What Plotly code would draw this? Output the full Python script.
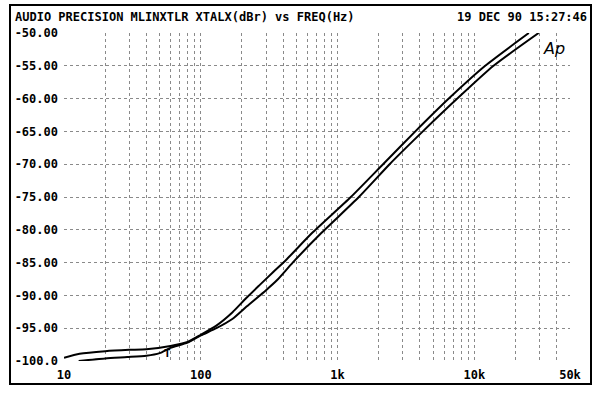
import math
import plotly.graph_objects as go

# ---- data ----
freq_a = [10, 13, 20, 30, 40, 60, 80, 100, 130, 170, 215, 270, 340, 420, 650, 1250, 2150, 3700, 6500, 12000, 25000]
xtalk_a = [-99.5, -98.9, -98.5, -98.3, -98.2, -97.7, -97.1, -96.0, -94.6, -92.6, -90.4, -88.4, -86.4, -84.6, -80.5, -75.0, -70.0, -65.0, -60.0, -55.0, -50.0]

freq_b = [12.8, 20, 29, 40, 50, 60, 80, 100, 130, 170, 216, 300, 360, 470, 760, 1430, 2400, 4200, 7500, 13800, 29500]
xtalk_b = [-100.0, -99.6, -99.4, -99.2, -98.8, -98.0, -97.2, -96.1, -95.0, -93.6, -91.7, -89.2, -87.7, -85.0, -80.5, -75.0, -70.0, -65.0, -60.0, -55.0, -50.0]

y_ticks = [-50, -55, -60, -65, -70, -75, -80, -85, -90, -95, -100]
y_tick_labels = ["-50.00", "-55.00", "-60.00", "-65.00", "-70.00", "-75.00",
                 "-80.00", "-85.00", "-90.00", "-95.00", "-100.0"]
x_ticks = [10, 100, 1000, 10000, 50000]
x_tick_labels = ["10", "100", "1k", "10k", "50k"]
x_minor = [20, 30, 40, 50, 60, 70, 80, 90,
           200, 300, 400, 500, 600, 700, 800, 900,
           2000, 3000, 4000, 5000, 6000, 7000, 8000, 9000,
           20000, 30000, 40000]

title_left = "AUDIO PRECISION MLINXTLR XTALX(dBr) vs FREQ(Hz)"
title_right = "19 DEC 90 15:27:46"
logo_text = "Ap"

# ---- layout geometry (pixels) ----
W, H = 600, 395
L, R, T, B = 64, 570, 33, 361
pw, ph = R - L, B - T

def px(x):
    return (x - L) / pw

def py(y):
    return (B - y) / ph

mono = "DejaVu Sans Mono"

fig = go.Figure()
for f, v in ((freq_a, xtalk_a), (freq_b, xtalk_b)):
    fig.add_trace(go.Scatter(
        x=f, y=v, mode="lines",
        line=dict(color="black", width=2, shape="spline", smoothing=0.6),
        showlegend=False, hoverinfo="skip"))

grid_col = "#8a8a8a"
fig.update_layout(
    width=W, height=H,
    margin=dict(l=L, r=W - R, t=T, b=H - B, autoexpand=False),
    paper_bgcolor="white", plot_bgcolor="white",
    xaxis=dict(
        type="log", range=[1, math.log10(50000)], automargin=False,
        tickmode="array", tickvals=x_ticks, ticktext=x_tick_labels,
        showgrid=True, gridcolor=grid_col, griddash="dot", gridwidth=1,
        minor=dict(tickmode="array", tickvals=x_minor, showgrid=True,
                   gridcolor=grid_col, griddash="dot", gridwidth=1, ticks=""),
        ticks="", showline=False, zeroline=False, ticklabelstandoff=5,
        tickfont=dict(family=mono, size=12, color="black", weight="bold"),
    ),
    yaxis=dict(
        range=[-100, -50], automargin=False,
        tickmode="array", tickvals=y_ticks, ticktext=y_tick_labels,
        showgrid=True, gridcolor=grid_col, griddash="dot", gridwidth=1,
        ticks="", showline=False, zeroline=False, ticklabelstandoff=5,
        tickfont=dict(family=mono, size=12, color="black", weight="bold"),
    ),
    shapes=[
        dict(type="rect", xref="paper", yref="paper",
             x0=px(10), x1=px(591), y0=py(384), y1=py(5),
             line=dict(color="black", width=2), fillcolor="rgba(0,0,0,0)"),
    ],
    annotations=[
        dict(text=title_left, xref="paper", yref="paper", x=px(13), y=py(17),
             xanchor="left", yanchor="middle", showarrow=False,
             font=dict(family=mono, size=12, color="black", weight="bold")),
        dict(text=title_right, xref="paper", yref="paper", x=px(589), y=py(17),
             xanchor="right", yanchor="middle", showarrow=False,
             font=dict(family=mono, size=12, color="black", weight="bold")),
        dict(text=logo_text, xref="paper", yref="paper", x=px(554), y=py(48),
             xanchor="center", yanchor="middle", showarrow=False,
             font=dict(family="DejaVu Sans", size=16, color="black", style="italic")),
        dict(text="T", xref="paper", yref="paper", x=px(167), y=py(353),
             xanchor="center", yanchor="middle", showarrow=False,
             font=dict(family=mono, size=11, color="black", weight="bold")),
    ],
)

fig.write_html("out.html", config={"displayModeBar": False},
               post_script="document.body.style.margin='0';")
